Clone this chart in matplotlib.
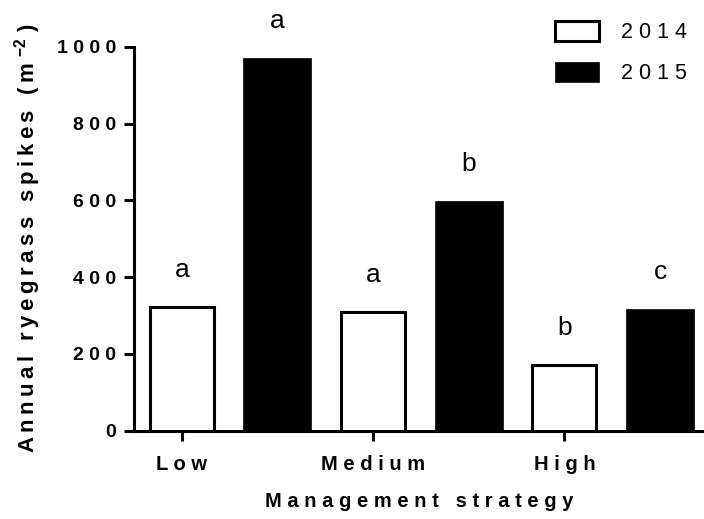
import numpy as np
import matplotlib
matplotlib.use('Agg')
import matplotlib.pyplot as plt

plt.rcParams['font.family'] = ['Liberation Sans', 'DejaVu Sans']
plt.rcParams['mathtext.fontset'] = 'custom'
plt.rcParams['mathtext.rm'] = 'Liberation Sans:bold'
plt.rcParams['mathtext.it'] = 'Liberation Sans:bold'
plt.rcParams['mathtext.bf'] = 'Liberation Sans:bold'

# data
categories = ['Low', 'Medium', 'High']
spikes_2014 = [323, 308, 171]
spikes_2015 = [971, 599, 316]
letters_2014 = ['a', 'a', 'b']
letters_2015 = ['a', 'b', 'c']
yticks = [0, 200, 400, 600, 800, 1000]


def spaced(s, sep=' '):
    # graphpad style wide letter spacing
    return sep.join(list(s))


fig = plt.figure(figsize=(7.04, 5.19), dpi=100)
ax = fig.add_axes([0.1903, 0.1701, 0.8097, 0.7399])

x14 = np.arange(len(categories)) * 2
x15 = x14 + 1

ax.bar(x14, spikes_2014, width=0.67, color='white', edgecolor='black',
       linewidth=2.2, label=spaced('2014'), zorder=3)
ax.bar(x15, spikes_2015, width=0.71, color='black', edgecolor='black',
       linewidth=0.5, label=spaced('2015'), zorder=3)

off = 78
for xs, vals, lets in [(x14, spikes_2014, letters_2014), (x15, spikes_2015, letters_2015)]:
    for x, v, l in zip(xs, vals, lets):
        ax.text(x, v + off, l, ha='center', va='baseline', fontsize=19)

ax.set_xlim(-0.5, 5.46)
ax.set_ylim(0, 1000)
ax.set_yticks(yticks)
ax.set_yticklabels([spaced(str(t)) for t in yticks], fontsize=14, fontweight='bold')
ax.set_xticks(x14)
ax.set_xticklabels([spaced(c) for c in categories], fontsize=14.5, fontweight='bold')

for side in ['top', 'right']:
    ax.spines[side].set_visible(False)
for side in ['left', 'bottom']:
    ax.spines[side].set_linewidth(2.2)
ax.tick_params(axis='y', length=7.2, width=2.2, pad=5.5)
ax.tick_params(axis='x', length=7.2, width=2.2, pad=10.5)

ax.set_xlabel(spaced('Management strategy'), fontsize=14.5, fontweight='bold', labelpad=13)
ax.set_ylabel(spaced('Annual ryegrass spikes (m', '\u2009') + ' $^{-2}$ )', fontsize=16,
              fontweight='bold', labelpad=10)

leg = ax.legend(loc='upper left', bbox_to_anchor=(555 / 704, 1 - 21 / 519),
                bbox_transform=fig.transFigure, frameon=False, fontsize=15.5,
                handlelength=2.05, handleheight=1.07, handletextpad=1.0,
                labelspacing=0.85, borderpad=0, borderaxespad=0)

fig.savefig('out.png', dpi=100)
